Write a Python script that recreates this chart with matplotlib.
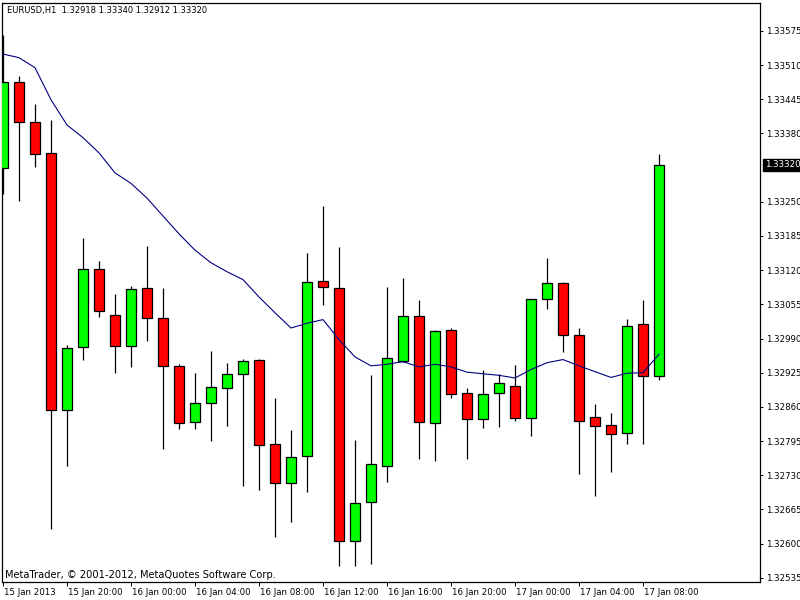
import matplotlib
matplotlib.use("Agg")
import matplotlib.pyplot as plt
import matplotlib.transforms as mtransforms
import numpy as np

# ---- data (EURUSD H1, 15 Jan 16:00 .. 17 Jan 09:00) ----
opens = [1.33315, 1.33477, 1.33401, 1.33343, 1.32854, 1.32974, 1.33123, 1.33035,
         1.32976, 1.33086, 1.33029, 1.32938, 1.32831, 1.32868, 1.32896, 1.32923,
         1.32950, 1.32790, 1.32716, 1.32766, 1.33099, 1.33086, 1.32605, 1.32680,
         1.32747, 1.32947, 1.33032, 1.32829, 1.33006, 1.32886, 1.32837, 1.32886,
         1.32899, 1.32839, 1.33065, 1.33096, 1.32996, 1.32841, 1.32825, 1.32810,
         1.33017, 1.32918]
highs = [1.33567, 1.33489, 1.33436, 1.33406, 1.32977, 1.33181, 1.33138, 1.33075,
         1.33090, 1.33166, 1.33086, 1.32942, 1.32925, 1.32967, 1.32944, 1.32951,
         1.32951, 1.32877, 1.32816, 1.33153, 1.33242, 1.33164, 1.32797, 1.32921,
         1.33088, 1.33106, 1.33064, 1.33007, 1.33010, 1.32896, 1.32931, 1.32922,
         1.32940, 1.33066, 1.33144, 1.33097, 1.33010, 1.32866, 1.32849, 1.33027,
         1.33063, 1.33340]
lows = [1.33265, 1.33252, 1.33317, 1.32627, 1.32748, 1.32950, 1.33031, 1.32924,
        1.32936, 1.32986, 1.32779, 1.32818, 1.32818, 1.32796, 1.32824, 1.32710,
        1.32701, 1.32613, 1.32642, 1.32699, 1.33053, 1.32558, 1.32558, 1.32562,
        1.32718, 1.32946, 1.32760, 1.32758, 1.32876, 1.32760, 1.32819, 1.32822,
        1.32834, 1.32804, 1.33047, 1.32965, 1.32732, 1.32690, 1.32736, 1.32790,
        1.32789, 1.32912]
closes = [1.33478, 1.33401, 1.33340, 1.32854, 1.32972, 1.33123, 1.33043, 1.32976,
          1.33085, 1.33029, 1.32938, 1.32829, 1.32868, 1.32898, 1.32923, 1.32948,
          1.32788, 1.32716, 1.32764, 1.33097, 1.33088, 1.32605, 1.32678, 1.32752,
          1.32953, 1.33032, 1.32831, 1.33004, 1.32884, 1.32837, 1.32884, 1.32905,
          1.32839, 1.33065, 1.33096, 1.32996, 1.32833, 1.32823, 1.32808, 1.33013,
          1.32918, 1.33320]
ma_values = [1.33531, 1.33524, 1.33505, 1.33444, 1.33396, 1.33372, 1.33343, 1.33305,
             1.33285, 1.33257, 1.33223, 1.33189, 1.33158, 1.33134, 1.33117, 1.33102,
             1.33069, 1.33039, 1.33010, 1.33019, 1.33026, 1.32988, 1.32955, 1.32938,
             1.32941, 1.32946, 1.32936, 1.32941, 1.32936, 1.32926, 1.32923, 1.32920,
             1.32915, 1.32931, 1.32944, 1.32950, 1.32938, 1.32927, 1.32916, 1.32924,
             1.32925, 1.32960]
x_tick_labels = ["15 Jan 2013", "15 Jan 20:00", "16 Jan 00:00", "16 Jan 04:00",
                 "16 Jan 08:00", "16 Jan 12:00", "16 Jan 16:00", "16 Jan 20:00",
                 "17 Jan 00:00", "17 Jan 04:00", "17 Jan 08:00"]
x_tick_pos = [0, 4, 8, 12, 16, 20, 24, 28, 32, 36, 40]
y_ticks = [1.32535, 1.32600, 1.32665, 1.32730, 1.32795, 1.32860, 1.32925, 1.32990,
           1.33055, 1.33120, 1.33185, 1.33250, 1.33380, 1.33445, 1.33510, 1.33575]
symbol_title = "EURUSD,H1  1.32918 1.33340 1.32912 1.33320"
last_price_label = "1.33320"
copyright_text = "MetaTrader, \u00a9 2001-2012, MetaQuotes Software Corp."

# ---- figure ----
plt.rcParams['font.family'] = ['DejaVu Sans']
fig = plt.figure(figsize=(8, 6), dpi=100, facecolor='white')
W, H = 800, 600
left, right, top, bottom = 2, 760, 3, 582
ax = fig.add_axes([left / W, (H - bottom) / H, (right - left) / W, (bottom - top) / H])
ax.set_facecolor('white')

o = np.array(opens); c = np.array(closes); hi = np.array(highs); lo = np.array(lows)
idx = np.arange(len(o))
up = c >= o
body_bottom = np.minimum(o, c)
body_h = np.abs(c - o)
colors = np.where(up, '#00FF00', '#FF0000')

ax.vlines(idx, lo, hi, color='black', linewidth=0.9, zorder=2)
ax.bar(idx, body_h, bottom=body_bottom, width=0.68, color=colors,
       edgecolor='black', linewidth=0.9, zorder=3)
ax.plot(idx, ma_values, color='#000080', linewidth=0.8, zorder=4)

ax.set_xlim(-1 / 16, (right - left - 1) / 16)
ax.set_ylim(1.32527, 1.33628)

for s in ax.spines.values():
    s.set_linewidth(0.9)
    s.set_color('black')

ax.yaxis.tick_right()
ax.set_yticks(y_ticks)
ax.set_yticklabels([f"{v:.5f}" for v in y_ticks])
ax.tick_params(axis='y', direction='out', length=2.5, width=0.7, labelsize=6.2, pad=1.5,
               colors='black')

ax.set_xticks(x_tick_pos)
ax.set_xticklabels(x_tick_labels, ha='left')
ax.tick_params(axis='x', direction='out', length=3, width=0.7, labelsize=6.2, pad=1.5,
               colors='black')
offset = mtransforms.ScaledTranslation(1.5 / 100, 0, fig.dpi_scale_trans)
for lbl in ax.get_xticklabels():
    lbl.set_transform(lbl.get_transform() + offset)

# current price box
ax.text(1.006, closes[-1], last_price_label, transform=ax.get_yaxis_transform(),
        ha='left', va='center', fontsize=6.2, color='white', zorder=10,
        bbox=dict(boxstyle='square,pad=0.2', facecolor='black', edgecolor='black'),
        clip_on=False)

fig.text(7 / W, 1 - 11 / H, symbol_title, ha='left', va='center', fontsize=6.0, color='black')
fig.text(5 / W, 1 - 575 / H, copyright_text, ha='left', va='center', fontsize=7.1, color='black')

fig.savefig('out.png', dpi=100, facecolor='white')
